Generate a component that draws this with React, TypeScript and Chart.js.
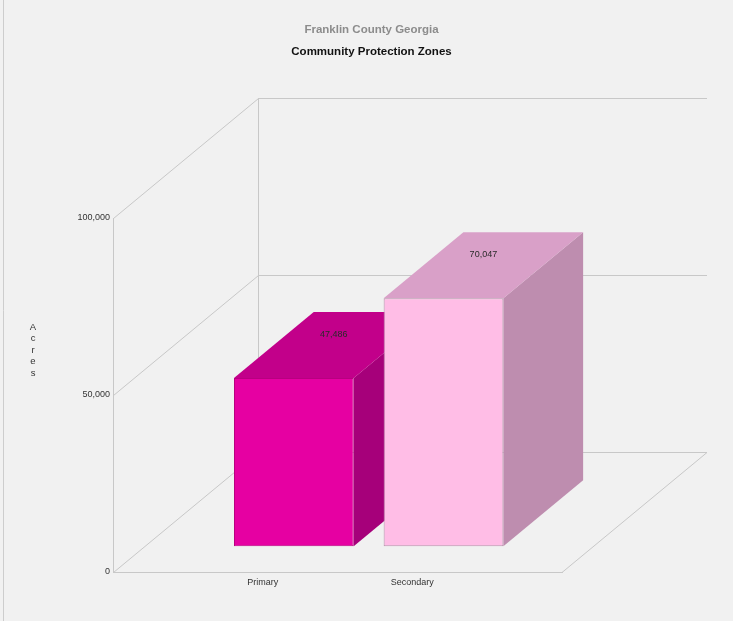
import React, { useEffect, useRef } from 'react';
import { Chart, registerables } from 'chart.js';

Chart.register(...registerables);

const TITLE = 'Franklin County Georgia';
const SUBTITLE = 'Community Protection Zones';
const AXIS_TITLE = 'Acres';
const categories = ['Primary', 'Secondary'];
const acres = [47486, 70047];
const yTicks = [0, 50000, 100000];
const frontColors = ['#e600a2', '#ffbde6'];
const topColors = ['#c2008a', '#d9a0c8'];
const sideColors = ['#a6007a', '#be8daf'];
const edgeColors = ['#b8007f', '#b892ac'];

const FONT = "'Liberation Sans', Arial, Helvetica, sans-serif";
const DX = 145;
const DY = 120;
const BAR_FRONT = 0.215;
const BAR_BACK = 0.765;

const fmt = (v: number) => v.toLocaleString('en-US');

const depthPlugin = {
  id: 'depth3d',
  beforeDraw(chart: any) {
    const { ctx, width, height, chartArea } = chart;
    const ys = chart.scales.y;
    ctx.save();
    ctx.fillStyle = '#f1f1f1';
    ctx.fillRect(0, 0, width, height);
    ctx.strokeStyle = '#cdcdcd';
    ctx.lineWidth = 1;
    ctx.beginPath();
    ctx.moveTo(3.5, 0);
    ctx.lineTo(3.5, height);
    ctx.stroke();

    const L = chartArea.left;
    const R = chartArea.right;
    const y0 = ys.getPixelForValue(yTicks[0]);
    const yTop = ys.getPixelForValue(yTicks[yTicks.length - 1]);
    ctx.strokeStyle = '#c8c8c8';
    ctx.beginPath();
    ctx.moveTo(L + DX + 0.5, yTop - DY);
    ctx.lineTo(L + DX + 0.5, y0 - DY);
    for (const v of yTicks) {
      const py = ys.getPixelForValue(v) + 0.5;
      ctx.moveTo(L + 0.5, py);
      ctx.lineTo(L + DX + 0.5, py - DY);
      ctx.moveTo(L + DX, py - DY);
      ctx.lineTo(R + DX, py - DY);
    }
    ctx.moveTo(R, y0 + 0.5);
    ctx.lineTo(R + DX, y0 + 0.5 - DY);
    ctx.stroke();

    // titles
    const cx = width / 2 + 5;
    ctx.textAlign = 'center';
    ctx.textBaseline = 'middle';
    ctx.font = `bold 11.5px ${FONT}`;
    ctx.fillStyle = '#8c8c8c';
    ctx.fillText(TITLE, cx, 30);
    ctx.fillStyle = '#111111';
    ctx.fillText(SUBTITLE, cx, 52);

    // vertical stacked axis title
    ctx.font = `9.5px ${FONT}`;
    ctx.fillStyle = '#333333';
    const midY = (y0 + yTop) / 2;
    const step = 11.5;
    const letters = AXIS_TITLE.split('');
    letters.forEach((ch, i) => {
      ctx.fillText(ch, 33, midY - 45 + (i - (letters.length - 1) / 2) * step);
    });
    ctx.restore();
  },
  beforeDatasetsDraw(chart: any) {
    const { ctx } = chart;
    const meta = chart.getDatasetMeta(0);
    const ox = BAR_FRONT * DX;
    const oy = -BAR_FRONT * DY;
    const bdx = (BAR_BACK - BAR_FRONT) * DX;
    const bdy = (BAR_BACK - BAR_FRONT) * DY;
    ctx.save();
    meta.data.forEach((el: any, i: number) => {
      const k = i - 1;
      if (k < 0 || k >= acres.length) return;
      const { x, y, base, width } = el.getProps(['x', 'y', 'base', 'width'], true);
      const left = x - width / 2 + ox;
      const right = x + width / 2 + ox;
      const top = y + oy;
      const bottom = base + oy;
      // side face
      ctx.fillStyle = sideColors[k];
      ctx.beginPath();
      ctx.moveTo(right, top);
      ctx.lineTo(right + bdx, top - bdy);
      ctx.lineTo(right + bdx, bottom - bdy);
      ctx.lineTo(right, bottom);
      ctx.closePath();
      ctx.fill();
      // top face
      ctx.fillStyle = topColors[k];
      ctx.beginPath();
      ctx.moveTo(left, top);
      ctx.lineTo(right, top);
      ctx.lineTo(right + bdx, top - bdy);
      ctx.lineTo(left + bdx, top - bdy);
      ctx.closePath();
      ctx.fill();
    });
    ctx.restore();
    ctx.save();
    ctx.translate(ox, oy);
  },
  afterDatasetsDraw(chart: any) {
    const { ctx } = chart;
    ctx.restore();
    const meta = chart.getDatasetMeta(0);
    const ox = BAR_FRONT * DX;
    const oy = -BAR_FRONT * DY;
    const bdx = (BAR_BACK - BAR_FRONT) * DX;
    const bdy = (BAR_BACK - BAR_FRONT) * DY;
    ctx.save();
    ctx.font = `9px ${FONT}`;
    ctx.fillStyle = '#2a2a2a';
    ctx.textAlign = 'center';
    ctx.textBaseline = 'middle';
    meta.data.forEach((el: any, i: number) => {
      const k = i - 1;
      if (k < 0 || k >= acres.length) return;
      const { x, y } = el.getProps(['x', 'y'], true);
      ctx.fillText(fmt(acres[k]), x + ox + bdx / 2, y + oy - bdy / 2 - 11);
    });
    ctx.restore();
  },
};

export default function App() {
  const ref = useRef<HTMLCanvasElement | null>(null);
  useEffect(() => {
    if (!ref.current) return;
    const labels = ['', ...categories, ''];
    const data = [null, ...acres, null];
    const bg = ['transparent', ...frontColors, 'transparent'];
    const bc = ['transparent', ...edgeColors, 'transparent'];
    const chart = new Chart(ref.current, {
      type: 'bar',
      data: {
        labels,
        datasets: [
          {
            data,
            backgroundColor: bg,
            borderColor: bc,
            borderWidth: 1,
            borderSkipped: false,
            categoryPercentage: 0.8,
            barPercentage: 1,
            clip: false,
          } as any,
        ],
      },
      options: {
        animation: false,
        responsive: false,
        devicePixelRatio: 1,
        layout: { padding: { top: 218, right: 171, bottom: 0, left: 0 } },
        plugins: {
          legend: { display: false },
          tooltip: { enabled: false },
          title: { display: false },
        },
        scales: {
          x: {
            type: 'category',
            offset: false,
            grid: { display: false, drawTicks: false },
            border: { display: true, color: '#c8c8c8', width: 1 },
            ticks: {
              color: '#333333',
              font: { family: FONT, size: 9 },
              padding: 5,
              maxRotation: 0,
              autoSkip: false,
            },
            afterFit: (s: any) => {
              s.height = 49;
            },
          },
          y: {
            min: 0,
            max: 100000,
            grid: { display: false, drawTicks: false },
            border: { display: true, color: '#c8c8c8', width: 1 },
            afterBuildTicks: (s: any) => {
              s.ticks = yTicks.map((v) => ({ value: v }));
            },
            ticks: {
              color: '#333333',
              font: { family: FONT, size: 9 },
              padding: 3,
              callback: (v: any) => fmt(Number(v)),
            },
            afterFit: (s: any) => {
              s.width = 113;
            },
          },
        },
      },
      plugins: [depthPlugin],
    } as any);
    return () => chart.destroy();
  }, []);
  return (
    <div style={{ position: 'fixed', left: 0, top: 0, width: 733, height: 621 }}>
      <canvas ref={ref} width={733} height={621} style={{ display: 'block' }} />
    </div>
  );
}
